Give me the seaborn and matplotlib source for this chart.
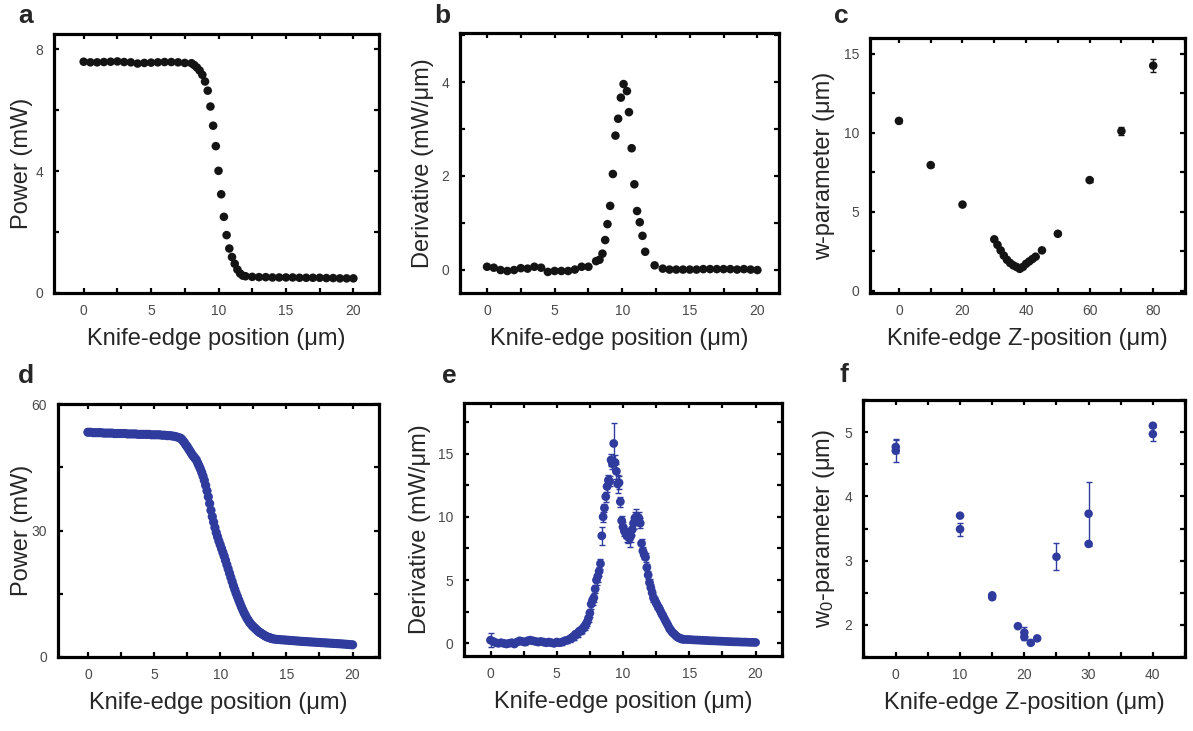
import numpy as np
import pandas as pd
import matplotlib
matplotlib.use("Agg")
import matplotlib.pyplot as plt
import seaborn as sns
from matplotlib.ticker import MultipleLocator

sns.set_style("ticks")
plt.rcParams['font.family'] = ['Liberation Sans', 'DejaVu Sans']
plt.rcParams['mathtext.fontset'] = 'custom'
plt.rcParams['mathtext.rm'] = 'Liberation Sans'
plt.rcParams['mathtext.it'] = 'Liberation Sans:italic'

BLACK = '#141414'
BLUE = '#2f3c9e'
TICKGRAY = '#4a4a4a'

# ---------------- Panel a: power vs knife-edge position ----------------
a_hi = [7.59, 7.57, 7.57, 7.58, 7.59, 7.60, 7.58, 7.57, 7.53, 7.55, 7.56, 7.57,
        7.58, 7.58, 7.57, 7.55]                      # x 0 .. 7.5 step 0.5
a_mid = [7.54, 7.48, 7.40, 7.30, 7.16, 6.94, 6.64, 6.12, 5.49, 4.82, 4.01, 3.24,
         2.50, 1.90, 1.46, 1.18, 0.96, 0.77, 0.64, 0.57, 0.55]   # x 8.0 .. 12.0 step 0.2
a_lo = [0.53, 0.52, 0.52, 0.51, 0.51, 0.51, 0.51, 0.50, 0.50, 0.50, 0.50, 0.49,
        0.49, 0.48, 0.48, 0.48]                      # x 12.5 .. 20 step 0.5

# ---------------- Panel b: derivative ----------------
b_lo1 = [0.06, 0.04, -0.01, -0.03, -0.01, 0.03, 0.02, 0.06, 0.04, -0.05, -0.03,
         -0.03, -0.03, 0.00, 0.06, 0.06]             # x 0 .. 7.5 step 0.5
b_mid_x = [8.07, 8.32, 8.54, 8.74, 8.91, 9.11, 9.31, 9.50, 9.70, 9.90, 10.10,
           10.35, 10.50, 10.70, 10.90, 11.10, 11.30, 11.50, 11.70, 12.40]
b_mid = [0.18, 0.21, 0.34, 0.63, 0.97, 1.36, 2.04, 2.86, 3.22, 3.67, 3.96,
         3.81, 3.36, 2.59, 1.82, 1.25, 1.01, 0.72, 0.38, 0.09]
b_lo2 = [0.02, 0.00, 0.00, 0.00, 0.00, 0.00, 0.01, 0.01, 0.01, 0.01, 0.01,
         0.00, 0.01, 0.00, -0.01]                    # x 13 .. 20 step 0.5

# ---------------- Panel c: w-parameter vs Z ----------------
c_z = [0, 10, 20, 30, 31, 32, 33, 34, 35, 36, 37, 38, 39, 40, 41, 42, 43, 45, 50, 60, 70, 80]
c_w = [10.75, 7.95, 5.45, 3.25, 2.90, 2.55, 2.22, 1.95, 1.75, 1.60, 1.50, 1.38,
       1.50, 1.70, 1.85, 2.00, 2.15, 2.55, 3.60, 7.00, 10.10, 14.25]
c_err = [0.15, 0.10, 0.10, 0.05, 0.05, 0.05, 0.05, 0.05, 0.05, 0.05, 0.05, 0.05,
         0.05, 0.05, 0.05, 0.05, 0.05, 0.05, 0.10, 0.15, 0.25, 0.40]

# ---------------- Panel d: power vs position (dense) ----------------
d_hi = [53.3, 53.3, 53.2, 53.2, 53.2, 53.2, 53.1, 53.1, 53.1, 53.1, 53.0, 53.0,
        53.0, 53.0, 53.0, 52.9, 52.9, 52.9, 52.9, 52.8, 52.8, 52.8, 52.8, 52.8,
        52.7, 52.7, 52.7, 52.7, 52.6, 52.6, 52.5, 52.5, 52.4, 52.3, 52.1]   # x 0 .. 6.8 step 0.2
d_mid = [51.9, 51.6, 51.2, 50.8, 50.3, 49.9, 49.4, 48.9, 48.4, 47.9,
         47.5, 47.1, 46.7, 46.0, 45.3, 44.6, 43.8, 42.9, 41.9, 40.7,
         39.4, 38.0, 36.4, 34.8, 33.3, 32.0, 30.7, 29.5, 28.5, 27.5,
         26.6, 25.7, 24.8, 23.9, 22.9, 21.9, 20.9, 19.9, 18.9, 17.9,
         16.9, 16.0, 15.1, 14.3, 13.5, 12.7, 11.9, 11.2, 10.5, 9.9,
         9.3, 8.8, 8.3, 7.9, 7.5, 7.2, 6.9, 6.6, 6.3, 6.0,
         5.8, 5.6, 5.4, 5.2, 5.0, 4.85, 4.7, 4.6, 4.5, 4.4]              # x 7.0 .. 13.9 step 0.1
d_lo = [4.30, 4.20, 4.15, 4.10, 4.05, 4.00, 3.95, 3.90, 3.85, 3.80, 3.75, 3.70,
        3.66, 3.62, 3.58, 3.54, 3.50, 3.46, 3.42, 3.38, 3.34, 3.30, 3.26, 3.22,
        3.18, 3.14, 3.10, 3.05, 3.00, 2.95, 2.90]    # x 14 .. 20 step 0.2

# ---------------- Panel e: derivative (dense, with error bars) ----------------
e_lo1 = [0.25, 0.15, 0.05, 0.00, 0.05, 0.00, -0.05, 0.00, 0.05, -0.05, 0.10,
         0.20, 0.15, 0.10, 0.20, 0.25, 0.20, 0.15, 0.10, 0.15, 0.10, 0.05, 0.10,
         0.05, 0.00, 0.10, 0.05, 0.10, 0.20, 0.25, 0.35]            # x 0 .. 6 step 0.2
e_lo1_err = [0.55, 0.20, 0.15, 0.15, 0.15, 0.15, 0.15, 0.15, 0.15, 0.15, 0.15,
             0.20, 0.20, 0.20, 0.20, 0.20, 0.15, 0.15, 0.15, 0.15, 0.15, 0.15,
             0.15, 0.15, 0.15, 0.15, 0.15, 0.20, 0.20, 0.20, 0.25]
e_mid = [0.40, 0.50, 0.55, 0.70, 0.75, 0.80, 0.95, 1.00, 1.10, 1.20,
         1.35, 1.50, 1.70, 2.00, 2.40, 3.10, 3.40, 3.60, 4.30, 5.00,
         5.30, 5.70, 6.30, 8.50, 10.0, 10.7, 11.6, 12.4, 12.9, 12.8,
         14.5, 14.2, 15.8, 14.3, 13.6, 12.6, 12.7, 11.2, 9.70, 9.20,
         8.90, 8.70, 8.50, 8.40, 8.30, 8.50, 9.00, 9.50, 9.90, 10.0,
         9.80, 9.90, 9.50, 7.90, 7.30, 7.00, 6.80, 6.00, 5.40, 4.80,
         4.40, 4.00, 3.60, 3.40, 3.20, 3.00, 2.80, 2.60, 2.40, 2.20,
         2.00, 1.80, 1.60, 1.40, 1.20, 1.05, 0.90, 0.80, 0.70, 0.60,
         0.50, 0.45, 0.40, 0.35, 0.33]                               # x 6.1 .. 14.5 step 0.1
e_mid_err = [0.25, 0.25, 0.25, 0.30, 0.25, 0.30, 0.25, 0.30, 0.25, 0.25,
             0.30, 0.25, 0.30, 0.30, 0.30, 0.35, 0.40, 0.35, 0.30, 0.35,
             0.45, 0.35, 0.40, 0.70, 0.40, 0.35, 0.40, 0.45, 0.40, 0.40,
             0.50, 0.45, 1.60, 0.60, 0.60, 0.70, 0.50, 0.40, 0.35, 0.40,
             0.40, 0.40, 0.45, 0.50, 0.70, 0.45, 0.40, 0.45, 0.50, 0.60,
             0.45, 0.50, 0.40, 0.35, 0.35, 0.30, 0.35, 0.30, 0.30, 0.30,
             0.30, 0.30, 0.30, 0.25, 0.25, 0.25, 0.25, 0.25, 0.25, 0.20,
             0.20, 0.20, 0.20, 0.20, 0.20, 0.15, 0.15, 0.15, 0.15, 0.15,
             0.10, 0.10, 0.10, 0.10, 0.10]
e_lo2 = [0.32, 0.30, 0.30, 0.28, 0.27, 0.26, 0.25, 0.24, 0.23, 0.22, 0.20, 0.20,
         0.19, 0.18, 0.17, 0.16, 0.15, 0.14, 0.13, 0.12, 0.12, 0.11, 0.10, 0.10,
         0.09, 0.08, 0.08, 0.07]                     # x 14.6 .. 20 step 0.2

# ---------------- Panel f: w0-parameter vs Z ----------------
f_z = [0, 0, 10, 10, 15, 15, 19, 20, 20, 21, 22, 25, 30, 30, 40, 40]
f_w = [4.77, 4.71, 3.70, 3.49, 2.46, 2.43, 1.98, 1.88, 1.81, 1.72, 1.79, 3.06,
       3.73, 3.26, 5.10, 4.97]
f_err = [0.10, 0.18, 0.02, 0.10, 0.02, 0.02, 0.02, 0.08, 0.05, 0.02, 0.02, 0.21,
         0.50, 0.02, 0.02, 0.11]


def grid(start, step, vals):
    return np.round(start + step * np.arange(len(vals)), 3)


a_df = pd.DataFrame({
    "x": np.concatenate([grid(0, 0.5, a_hi), grid(8.0, 0.2, a_mid), grid(12.5, 0.5, a_lo)]),
    "y": np.concatenate([a_hi, a_mid, a_lo])})
b_df = pd.DataFrame({
    "x": np.concatenate([grid(0, 0.5, b_lo1), b_mid_x, grid(13.0, 0.5, b_lo2)]),
    "y": np.concatenate([b_lo1, b_mid, b_lo2])})
c_df = pd.DataFrame({"x": c_z, "y": c_w, "err": c_err})
d_df = pd.DataFrame({
    "x": np.concatenate([grid(0, 0.2, d_hi), grid(7.0, 0.1, d_mid), grid(14.0, 0.2, d_lo)]),
    "y": np.concatenate([d_hi, d_mid, d_lo])})
e_df = pd.DataFrame({
    "x": np.concatenate([grid(0, 0.2, e_lo1), grid(6.1, 0.1, e_mid), grid(14.6, 0.2, e_lo2)]),
    "y": np.concatenate([e_lo1, e_mid, e_lo2]),
    "err": np.concatenate([e_lo1_err, e_mid_err, np.full(len(e_lo2), 0.08)])})
f_df = pd.DataFrame({"x": f_z, "y": f_w, "err": f_err})

W, H = 1193, 731
fig = plt.figure(figsize=(W / 100, H / 100), dpi=100)


def make_ax(l, t, r, b):
    return fig.add_axes([l / W, 1 - b / H, (r - l) / W, (b - t) / H])


def style(ax, xlim, ylim, xmaj, xmin, ymaj, ymin, xlabel, ylabel, ylpad=5):
    ax.set_xlim(*xlim)
    ax.set_ylim(*ylim)
    ax.xaxis.set_major_locator(MultipleLocator(xmaj))
    ax.xaxis.set_minor_locator(MultipleLocator(xmin))
    ax.yaxis.set_major_locator(MultipleLocator(ymaj))
    ax.yaxis.set_minor_locator(MultipleLocator(ymin))
    ax.tick_params(which='both', direction='in', top=True, right=True,
                   length=3.5, width=1.6, color='black')
    ax.tick_params(which='major', labelsize=10, labelcolor=TICKGRAY, pad=8)
    for sp in ax.spines.values():
        sp.set_linewidth(2.3)
        sp.set_color('black')
    ax.set_xlabel(xlabel, fontsize=17, labelpad=7)
    ax.set_ylabel(ylabel, fontsize=17, labelpad=ylpad)


def dots(ax, df, color, s=38):
    sns.scatterplot(data=df, x="x", y="y", ax=ax, color=color, s=s,
                    edgecolor='none', linewidth=0, legend=False, zorder=3)


def errs(ax, df, color, lw=1.0, cap=2.5):
    ax.errorbar(df["x"], df["y"], yerr=df["err"], fmt='none', ecolor=color,
                elinewidth=lw, capsize=cap, capthick=lw, zorder=2)


xl = "Knife-edge position (μm)"
zl = "Knife-edge Z-position (μm)"

ax_a = make_ax(54, 34, 379, 293)
dots(ax_a, a_df, BLACK)
style(ax_a, (-2.2, 21.9), (0, 8.5), 5, 2.5, 4, 2, xl, "Power (mW)", ylpad=1.5)

ax_b = make_ax(460, 33, 779, 293)
dots(ax_b, b_df, BLACK)
style(ax_b, (-2.0, 21.6), (-0.5, 5.05), 5, 2.5, 2, 1, xl, "Derivative (mW/μm)")

ax_c = make_ax(870, 38, 1185, 293)
errs(ax_c, c_df, BLACK)
dots(ax_c, c_df, BLACK)
style(ax_c, (-9.1, 90), (-0.15, 16.0), 20, 10, 5, 2.5, zl, "w-parameter (μm)", ylpad=6)

ax_d = make_ax(58, 404, 379, 657)
dots(ax_d, d_df, BLUE, s=44)
style(ax_d, (-2.26, 22), (0, 60), 5, 2.5, 30, 15, xl, "Power (mW)", ylpad=-1.5)

ax_e = make_ax(464, 403, 782, 656)
errs(ax_e, e_df, BLUE, lw=1.0, cap=2)
dots(ax_e, e_df, BLUE, s=40)
style(ax_e, (-2.0, 22), (-1, 19), 5, 2.5, 5, 2.5, xl, "Derivative (mW/μm)")

ax_f = make_ax(863, 400, 1185, 657)
errs(ax_f, f_df, BLUE)
dots(ax_f, f_df, BLUE)
style(ax_f, (-5.1, 45), (1.5, 5.5), 10, 5, 1, 0.5, zl,
      r"w$_{\mathrm{0}}$-parameter (μm)")

for lbl, x, y in [("a", 18, 23), ("b", 434, 23), ("c", 834, 23),
                  ("d", 18, 383), ("e", 442, 383), ("f", 840, 382)]:
    fig.text(x / W, 1 - y / H, lbl, fontsize=19, fontweight='bold',
             ha='left', va='baseline')

fig.savefig("out.png", dpi=100)
